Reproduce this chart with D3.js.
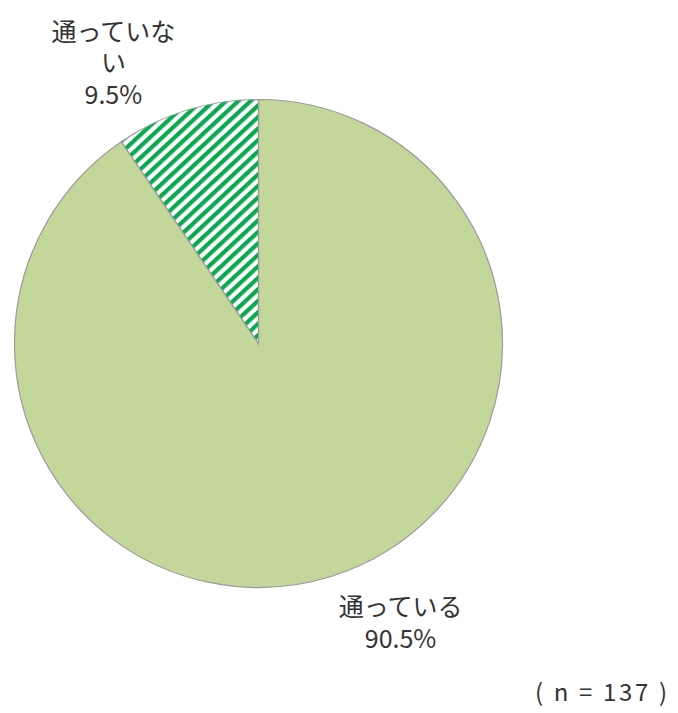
<!DOCTYPE html>
<html>
<head>
<meta charset="utf-8">
<script src="https://cdn.jsdelivr.net/npm/d3@7"></script>
<style>
  body { margin: 0; background: #fff; }
  svg text { font-family: "Noto Sans CJK JP", "Noto Sans", sans-serif; fill: #333; }
</style>
</head>
<body>
<div id="chart"></div>
<script>
    const categories = ['通っている', '通っていない']
    const values = [90.5, 9.5]
    const sampleNote = '( n = 137 )'

    const width = 678
    const height = 713
    const cx = 258.5
    const cy = 343.5
    const radius = 244

    const svg = d3.select('#chart')
        .append('svg')
        .attr('width', width)
        .attr('height', height)

    // diagonal green hatch for the small slice
    const defs = svg.append('defs')
    const hatch = defs.append('pattern')
        .attr('id', 'hatch')
        .attr('patternUnits', 'userSpaceOnUse')
        .attr('width', 8.4)
        .attr('height', 8.4)
        .attr('patternTransform', 'rotate(47)')
    hatch.append('rect').attr('width', 8.4).attr('height', 8.4).attr('fill', '#fff')
    hatch.append('rect').attr('width', 4.2).attr('height', 8.4).attr('fill', '#0aa84f')

    const fills = d3.scaleOrdinal()
        .domain(categories)
        .range(['#c4d79b', 'url(#hatch)'])

    const pie = d3.pie().sort(null).value(d => d.value)
    const arcs = pie(categories.map((c, i) => ({ name: c, value: values[i] })))

    const arc = d3.arc().innerRadius(0).outerRadius(radius)
    const labelArc = d3.arc().innerRadius(radius * 1.2).outerRadius(radius * 1.2)

    const g = svg.append('g').attr('transform', `translate(${cx},${cy})`)

    g.selectAll('path')
        .data(arcs)
        .join('path')
        .attr('d', arc)
        .attr('fill', d => fills(d.data.name))
        .attr('stroke', '#9a9a9a')
        .attr('stroke-width', 1.2)

    // wrap label at 5 characters like the original
    function wrap(s, n) {
        const out = []
        for (let i = 0; i < s.length; i += n) out.push(s.slice(i, i + n))
        return out
    }

    const fontSize = 25
    const lineH = 31.5

    const labels = g.selectAll('g.label')
        .data(arcs)
        .join('g')
        .attr('class', 'label')
        .attr('transform', d => {
            const [x, y] = labelArc.centroid(d)
            const shift = x < 0 ? -59 : 56
            return `translate(${x + shift},${y})`
        })

    labels.each(function (d) {
        const lines = wrap(d.data.name, 5).concat([d3.format('.1f')(d.data.value) + '%'])
        const top = -(lines.length - 1) * lineH / 2
        d3.select(this).selectAll('text')
            .data(lines)
            .join('text')
            .attr('text-anchor', 'middle')
            .attr('y', (t, i) => top + i * lineH)
            .attr('dy', '0.35em')
            .style('font-size', fontSize + 'px')
            .text(t => t)
    })

    svg.append('text')
        .attr('x', 667)
        .attr('y', 701)
        .attr('text-anchor', 'end')
        .attr('textLength', 132)
        .attr('lengthAdjust', 'spacing')
        .style('font-size', '24px')
        .text(sampleNote)
</script>
</body>
</html>
